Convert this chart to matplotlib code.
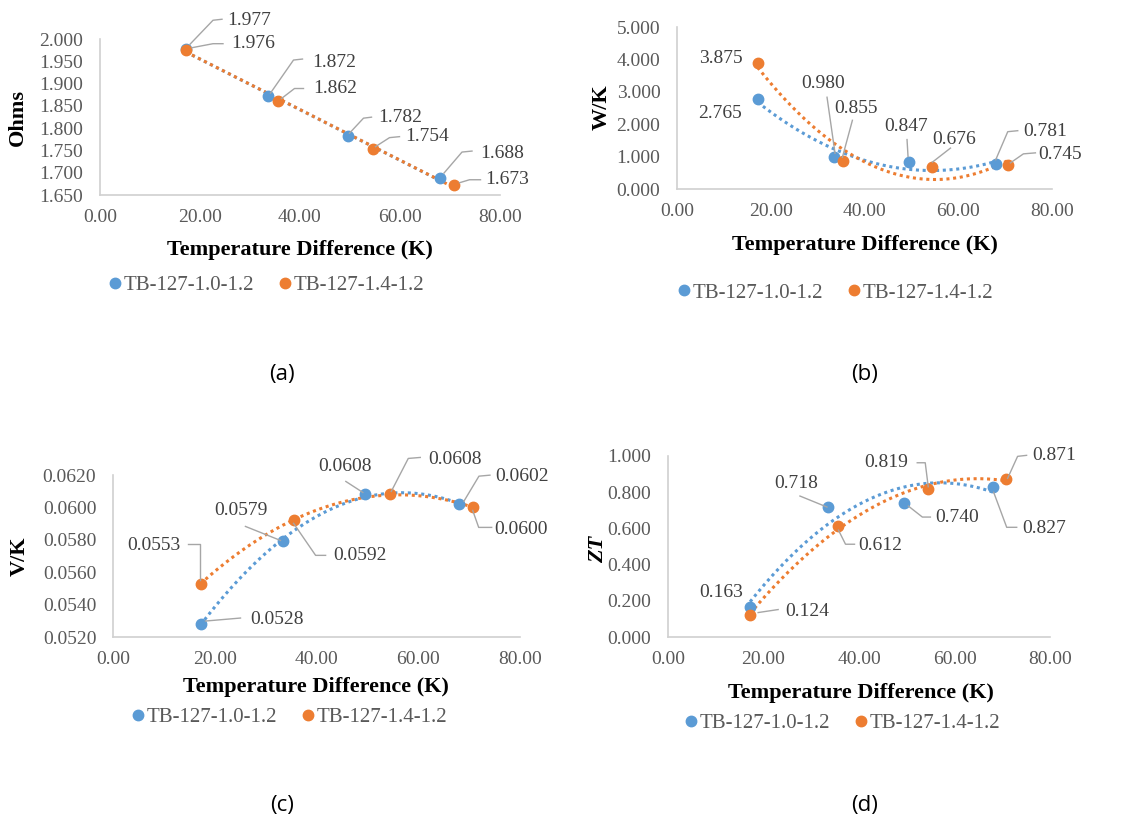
import numpy as np
import matplotlib
matplotlib.use("Agg")
import matplotlib.pyplot as plt
from matplotlib.lines import Line2D

W, H = 1133, 818
BLUE = "#5B9BD5"
ORANGE = "#ED7D31"
SERIF = "Liberation Serif"

series_names = ["TB-127-1.0-1.2", "TB-127-1.4-1.2"]
x_blue = [17.2, 33.5, 49.5, 68.0]
x_orange = [17.2, 35.5, 54.5, 70.7]

ohms_blue = [1.977, 1.872, 1.782, 1.688]
ohms_orange = [1.976, 1.862, 1.754, 1.673]
wk_blue = [2.765, 0.980, 0.847, 0.781]
wk_orange = [3.875, 0.855, 0.676, 0.745]
vk_blue = [0.0528, 0.0579, 0.0608, 0.0602]
vk_orange = [0.0553, 0.0592, 0.0608, 0.0600]
zt_blue = [0.163, 0.718, 0.740, 0.827]
zt_orange = [0.124, 0.612, 0.819, 0.871]

x_ticks = [0, 20, 40, 60, 80]
panel_letters = ["(a)", "(b)", "(c)", "(d)"]

# label layout: (dx, dy, ha, leader offsets) in pixels, y up, relative to point
labels_a = [
    [(41, 29, "left", [(4, 5), (27, 29), (36, 30)]),
     (45, 34, "left", [(3, 3), (26, 36), (35, 37)]),
     (31, 19, "left", [(2, 3), (16, 18), (24, 19)]),
     (40, 25, "left", [(4, 5), (22, 26), (32, 27)])],
    [(45, 6, "left", [(6, 2), (27, 6), (37, 6)]),
     (36, 12, "left", [(4, 2), (17, 12), (26, 12)]),
     (33, 12, "left", [(3, 2), (17, 11), (27, 12)]),
     (32, 5, "left", [(6, 2), (16, 5), (27, 5)])],
]
labels_b = [
    [(-16, -14, "right", []),
     (-11, 74, "center", [(1, 4), (-7, 60)]),
     (-3, 35, "center", [(-1, 5), (-2, 22)]),
     (28, 32, "left", [(0, 4), (12, 32), (22, 33)])],
    [(-15, 5, "right", []),
     (13, 53, "center", [(-1, 4), (9, 41)]),
     (22, 28, "center", [(0, 5), (18, 19)]),
     (30, 10, "left", [(2, 2), (15, 11), (27, 12)])],
]
labels_c = [
    [(50, 5, "left", [(5, 3), (40, 6)]),
     (-42, 31, "center", [(-3, 1), (-38, 15)]),
     (-20, 28, "center", [(-2, 2), (-19, 13)]),
     (36, 28, "left", [(5, 3), (20, 28), (31, 29)])],
    [(-20, 38.5, "right", [(-1, 4), (-1, 40), (-13, 40)]),
     (40, -35, "left", [(0, -3), (22, -35), (32, -35)]),
     (38, 35, "left", [(1, 3), (18, 36), (30, 37)]),
     (22, -22, "left", [(0, -3), (6, -20), (19, -20)])],
]
labels_d = [
    [(-7, 14.5, "right", []),
     (-32, 24, "center", [(-1, 0), (-28, 11)]),
     (31, -14, "left", [(4, -3), (18, -14), (26, -14)]),
     (30, -41, "left", [(1, -5), (14, -40), (24, -40)])],
    [(35, 2.6, "left", [(8, 2), (28, 5)]),
     (20.5, -19, "left", [(1, -4), (8, -18), (17, -18)]),
     (-20, 26, "right", [(0, 2), (-3, 26), (-11, 26)]),
     (27, 24, "left", [(2, 1), (12, 23), (21, 24)])],
]

panels = [
    dict(rect=(100, 39, 500, 195), yb=ohms_blue, yo=ohms_orange, ylim=(1.65, 2.0),
         ystep=0.05, yfmt="%.3f", lfmt="%.3f", ylabel="Ohms", ystyle="normal", deg=1,
         labels=labels_a, xlab=(300, 250), ylab=(18, 117), leg=(267, 285), cap=(282, 374)),
    dict(rect=(677, 27, 1052, 189), yb=wk_blue, yo=wk_orange, ylim=(0, 5),
         ystep=1.0, yfmt="%.3f", lfmt="%.3f", ylabel="W/K", ystyle="normal", deg=2,
         labels=labels_b, xlab=(865, 245), ylab=(602, 107), leg=(836, 293), cap=(865, 374)),
    dict(rect=(113, 475, 520, 637), yb=vk_blue, yo=vk_orange, ylim=(0.052, 0.062),
         ystep=0.002, yfmt="%.4f", lfmt="%.4f", ylabel="V/K", ystyle="normal", deg=2,
         labels=labels_c, xlab=(316, 687), ylab=(20, 556), leg=(290, 717), cap=(282, 805)),
    dict(rect=(668, 456, 1050, 637), yb=zt_blue, yo=zt_orange, ylim=(0, 1.0),
         ystep=0.2, yfmt="%.3f", lfmt="%.3f", ylabel="ZT", ystyle="italic", deg=2,
         labels=labels_d, xlab=(861, 693), ylab=(598, 549), leg=(843, 723), cap=(865, 805)),
]

fig = plt.figure(figsize=(W / 100, H / 100), dpi=100)
fig.patch.set_facecolor("white")


def fx(px):
    return px / W


def fy(py):
    return 1 - py / H


for i, p in enumerate(panels):
    l, t, r, b = p["rect"]
    ax = fig.add_axes([l / W, 1 - b / H, (r - l) / W, (b - t) / H])
    ax.set_xlim(0, 80)
    ax.set_ylim(*p["ylim"])
    for s in ["top", "right"]:
        ax.spines[s].set_visible(False)
    for s in ["left", "bottom"]:
        ax.spines[s].set_color("#d0d0d0")
        ax.spines[s].set_linewidth(1.2)
    ax.set_xticks(x_ticks)
    ax.set_xticklabels(["%.2f" % v for v in x_ticks])
    lo, hi = p["ylim"]
    yt = np.arange(lo, hi + p["ystep"] / 2, p["ystep"])
    ax.set_yticks(yt)
    ax.set_yticklabels([p["yfmt"] % v for v in yt])
    ax.tick_params(length=0, labelsize=14, colors="#595959")
    ax.tick_params(axis="y", pad=12)
    ax.tick_params(axis="x", pad=10)
    for lab in ax.get_xticklabels() + ax.get_yticklabels():
        lab.set_fontfamily(SERIF)
        lab.set_color("#595959")
    ax.patch.set_alpha(0)

    series = [(x_blue, p["yb"], BLUE), (x_orange, p["yo"], ORANGE)]
    # trendlines
    for xs, ys, c in series:
        coef = np.polyfit(xs, ys, p["deg"])
        xx = np.linspace(min(xs), max(xs), 200)
        ax.plot(xx, np.polyval(coef, xx), color=c, lw=2.2, ls=(0, (1, 1.2)),
                zorder=2, clip_on=False)
    for xs, ys, c in series:
        ax.plot(xs, ys, "o", color=c, markersize=7.5, zorder=3, clip_on=False)

    fig.canvas.draw()
    inv = ax.transData.inverted()
    for si, (xs, ys, c) in enumerate(series):
        for k, (xv, yv) in enumerate(zip(xs, ys)):
            dx, dy, ha, lead = p["labels"][si][k]
            ax.annotate(p["lfmt"] % yv, xy=(xv, yv), xytext=(dx, dy),
                        textcoords="offset pixels", ha=ha, va="center",
                        fontsize=14, family=SERIF, color="#404040", zorder=5,
                        annotation_clip=False)
            if lead:
                base = ax.transData.transform((xv, yv))
                pts = [inv.transform((base[0] + ox, base[1] + oy)) for ox, oy in lead]
                pts = np.array(pts)
                ax.plot(pts[:, 0], pts[:, 1], color="#a6a6a6", lw=1.0,
                        zorder=4, clip_on=False)

    fig.text(fx(p["xlab"][0]), fy(p["xlab"][1]), "Temperature Difference (K)",
             ha="center", va="center", fontsize=16, fontweight="bold",
             family=SERIF, color="black")
    fig.text(fx(p["ylab"][0]), fy(p["ylab"][1]), p["ylabel"], rotation=90,
             ha="center", va="center", fontsize=16, fontweight="bold",
             fontstyle=p["ystyle"], family=SERIF, color="black")

    handles = [Line2D([], [], marker="o", ls="", color=BLUE, markersize=7.5),
               Line2D([], [], marker="o", ls="", color=ORANGE, markersize=7.5)]
    leg = ax.legend(handles, series_names, loc="center",
                    bbox_to_anchor=(fx(p["leg"][0]), fy(p["leg"][1])),
                    bbox_transform=fig.transFigure, ncol=2, frameon=False,
                    handlelength=0.5, handletextpad=0.15, columnspacing=1.25,
                    prop={"family": SERIF, "size": 15}, borderaxespad=0)
    for txt in leg.get_texts():
        txt.set_color("#595959")

    fig.text(fx(p["cap"][0]), fy(p["cap"][1]), panel_letters[i], ha="center",
             va="center", fontsize=16, family="Open Sans", color="black")

fig.savefig("out.png", dpi=100, facecolor="white")
